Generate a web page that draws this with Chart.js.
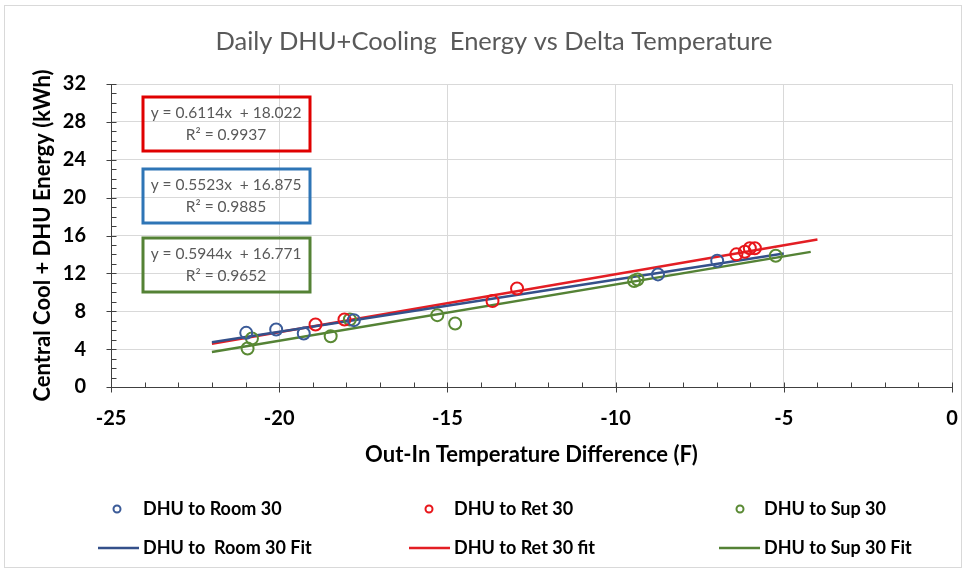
<!DOCTYPE html>
<html>
<head>
<meta charset="utf-8">
<script src="https://cdn.jsdelivr.net/npm/chart.js@4.4.1/dist/chart.umd.min.js"></script>
<style>
	html, body { margin: 0; padding: 0; background: #fff; }
	#wrap { width: 967px; height: 573px; }
</style>
</head>
<body>
<div id="wrap"><canvas id="chart"></canvas></div>
<script>
// |----------|
// |   Data   |
// |----------|

const chart_title = 'Daily DHU+Cooling  Energy vs Delta Temperature'
const x_title = 'Out-In Temperature Difference (F)'
const y_title = 'Central Cool + DHU Energy (kWh)'

// measured points
const room_x = [-20.98, -20.09, -19.27, -17.78, -8.74, -6.98]
const room_y = [5.72, 6.07, 5.65, 7.06, 11.89, 13.33]
const ret_x = [-18.92, -18.06, -13.66, -12.93, -6.41, -6.16, -6.01, -5.86]
const ret_y = [6.6, 7.13, 9.07, 10.41, 14.01, 14.29, 14.65, 14.65]
const sup_x = [-20.94, -20.81, -18.47, -17.9, -15.3, -14.77, -9.45, -9.35, -5.24]
const sup_y = [4.06, 5.12, 5.36, 7.13, 7.59, 6.71, 11.2, 11.35, 13.86]

// trend lines (end points)
const room_fit_x = [-22, -5]
const room_fit_y = [4.72, 14.11]
const ret_fit_x = [-22, -4]
const ret_fit_y = [4.57, 15.58]
const sup_fit_x = [-22, -4.2]
const sup_fit_y = [3.69, 14.27]

// equation labels (red, blue, green)
const eq_lines = ['y = 0.6114x  + 18.022', 'y = 0.5523x  + 16.875', 'y = 0.5944x  + 16.771']
const r2_lines = ['R\u00B2 = 0.9937', 'R\u00B2 = 0.9885', 'R\u00B2 = 0.9652']

const x_ticks = [-25, -20, -15, -10, -5, 0]
const y_ticks = [0, 4, 8, 12, 16, 20, 24, 28, 32]

const blue = '#3B5B98'
const red = '#E8161B'
const green = '#5A8A34'


// |--------------|
// |   Chart.js   |
// |--------------|

Chart.defaults.font.family = 'Lato, "Open Sans", sans-serif'
Chart.defaults.color = '#000'

function pts(xs, ys) {
	return xs.map((x, i) => ({ x: x, y: ys[i] }))
}

function point_set(label, xs, ys, color) {
	return {
		label: label,
		data: pts(xs, ys),
		showLine: false,
		borderColor: color,
		backgroundColor: 'rgba(0,0,0,0)',
		borderWidth: 2,
		pointRadius: 6,
		pointHoverRadius: 6,
		legend_kind: 'point'
	}
}

function fit_set(label, xs, ys, color) {
	return {
		label: label,
		data: pts(xs, ys),
		showLine: true,
		borderColor: color,
		borderWidth: 2.5,
		pointRadius: 0,
		fill: false,
		legend_kind: 'line'
	}
}

// Dessin du cadre, titre, equations, graduations et legende
const decor = {
	id: 'decor',
	beforeDraw(chart) {
		const ctx = chart.ctx
		ctx.save()
		ctx.fillStyle = '#fff'
		ctx.fillRect(0, 0, chart.width, chart.height)
		ctx.strokeStyle = '#d9d9d9'
		ctx.lineWidth = 1
		ctx.strokeRect(4.5, 5.5, 957, 562)
		ctx.restore()
	},
	afterDraw(chart) {
		const ctx = chart.ctx
		const xs = chart.scales.x
		const ys = chart.scales.y
		const x0 = Math.round(xs.getPixelForValue(-25)) + 0.5
		const y0 = Math.round(ys.getPixelForValue(0)) + 0.5
		ctx.save()

		// graduations
		ctx.strokeStyle = '#404040'
		ctx.lineWidth = 1
		ctx.beginPath()
		for (let v = -25; v <= 0; v++) {
			const px = Math.round(xs.getPixelForValue(v)) + 0.5
			const major = v % 5 == 0
			ctx.moveTo(px, y0 - 5)
			ctx.lineTo(px, major ? y0 + 5 : y0)
		}
		for (let v = 0; v <= 32; v++) {
			const py = Math.round(ys.getPixelForValue(v)) + 0.5
			const major = v % 4 == 0
			ctx.moveTo(x0 + 5, py)
			ctx.lineTo(major ? x0 - 5 : x0, py)
		}
		ctx.stroke()

		// titre
		ctx.fillStyle = '#595959'
		ctx.font = '25.5px Lato'
		ctx.textAlign = 'center'
		ctx.textBaseline = 'middle'
		ctx.fillText(chart_title, 494, 42)

		// equations
		const box_colors = ['#E00000', '#2E75B6', '#548235']
		const box_tops = [97, 169, 238]
		for (let i = 0; i < 3; i++) {
			ctx.strokeStyle = box_colors[i]
			ctx.lineWidth = 3
			ctx.strokeRect(143, box_tops[i], 167, 54)
			ctx.fillStyle = '#595959'
			ctx.font = '15.5px Lato'
			ctx.fillText(eq_lines[i], 226, box_tops[i] + 16)
			ctx.fillText(r2_lines[i], 226, box_tops[i] + 38)
		}

		// legende
		const mark_x = [117, 429, 740]
		const text_x = [143, 454, 764]
		const row_y = [509, 548]
		ctx.textAlign = 'left'
		ctx.font = 'bold 18px Lato'
		chart.data.datasets.forEach((ds, i) => {
			const col = i % 3
			const row = Math.floor(i / 3)
			const y = row_y[row]
			ctx.strokeStyle = ds.borderColor
			if (ds.legend_kind == 'point') {
				ctx.lineWidth = 2
				ctx.beginPath()
				ctx.arc(mark_x[col], y, 3.5, 0, Math.PI * 2)
				ctx.stroke()
			} else {
				ctx.lineWidth = 2.5
				ctx.beginPath()
				ctx.moveTo(text_x[col] - 45, y)
				ctx.lineTo(text_x[col] - 4, y)
				ctx.stroke()
			}
			ctx.fillStyle = '#000'
			ctx.fillText(ds.label, text_x[col], y)
		})
		ctx.restore()
	}
}

const config = {
	type: 'scatter',
	data: {
		datasets: [
			point_set('DHU to Room 30', room_x, room_y, blue),
			point_set('DHU to Ret 30', ret_x, ret_y, red),
			point_set('DHU to Sup 30', sup_x, sup_y, green),
			fit_set('DHU to  Room 30 Fit', room_fit_x, room_fit_y, '#34508A'),
			fit_set('DHU to Ret 30 fit', ret_fit_x, ret_fit_y, '#E31E24'),
			fit_set('DHU to Sup 30 Fit', sup_fit_x, sup_fit_y, '#548235')
		]
	},
	options: {
		responsive: true,
		maintainAspectRatio: false,
		animation: false,
		layout: { padding: { left: 20, right: 15, top: 84, bottom: 105 } },
		plugins: {
			legend: { display: false },
			title: { display: false },
			tooltip: { enabled: false }
		},
		scales: {
			x: {
				type: 'linear',
				min: -25,
				max: 0,
				afterBuildTicks: (s) => { s.ticks = x_ticks.map(v => ({ value: v })) },
				afterFit: (s) => { s.height = 81; s.paddingLeft = 0; s.paddingRight = 0 },
				grid: { color: '#d9d9d9', drawTicks: false },
				border: { color: '#404040', width: 1 },
				ticks: { padding: 20, font: { size: 20, weight: 'bold' }, color: '#000' },
				title: { display: true, text: x_title, font: { size: 22, weight: 'bold' }, color: '#000', padding: { top: 0, bottom: 0 } }
			},
			y: {
				type: 'linear',
				min: 0,
				max: 32,
				afterBuildTicks: (s) => { s.ticks = y_ticks.map(v => ({ value: v })) },
				afterFit: (s) => { s.width = 91; s.paddingTop = 0; s.paddingBottom = 0 },
				grid: { color: '#d9d9d9', drawTicks: false },
				border: { color: '#404040', width: 1 },
				ticks: { padding: 25, font: { size: 20, weight: 'bold' }, color: '#000' },
				title: { display: true, text: y_title, font: { size: 22, weight: 'bold' }, color: '#000', padding: { top: 10, bottom: 0 } }
			}
		}
	},
	plugins: [decor]
}

new Chart(document.getElementById('chart'), config)
</script>
</body>
</html>
